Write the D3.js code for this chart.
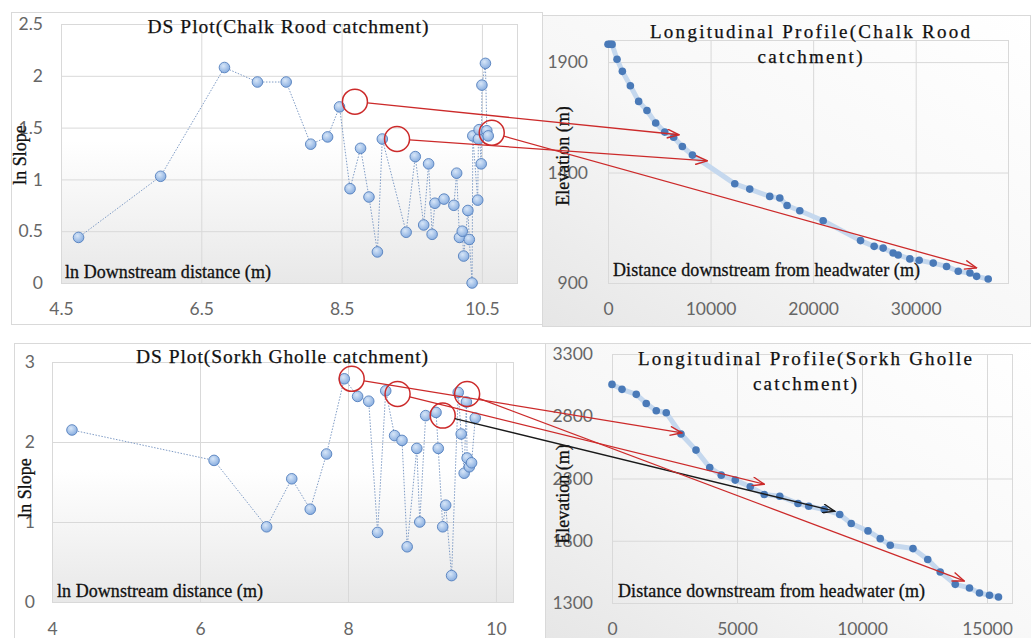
<!DOCTYPE html>
<html>
<head>
<meta charset="utf-8">
<script src="https://cdn.jsdelivr.net/npm/d3@7"></script>
<style>
  body { margin: 0; background: #fff; }
  svg { display: block; }
</style>
</head>
<body>
<svg id="fig" width="1031" height="638"></svg>
<script>
// DS plot, Chalk Rood catchment (ln downstream distance vs ln slope)
const chalkLnDist = [4.75, 5.92, 6.83, 7.30, 7.71, 8.06, 8.30, 8.47, 8.62, 8.77, 8.89, 9.01, 9.08,
  9.42, 9.55, 9.67, 9.74, 9.79, 9.83, 9.96, 10.10, 10.14, 10.18, 10.22, 10.24, 10.30, 10.32,
  10.36, 10.37, 10.44, 10.45, 10.46, 10.49, 10.50, 10.55, 10.57, 10.59];
const chalkLnSlope = [0.44, 1.03, 2.08, 1.94, 1.94, 1.34, 1.41, 1.70, 0.91, 1.30, 0.83, 0.30, 1.39,
  0.49, 1.22, 0.56, 1.15, 0.47, 0.77, 0.81, 0.75, 1.06, 0.44, 0.50, 0.26, 0.70, 0.42,
  0.00, 1.42, 0.80, 1.39, 1.48, 1.15, 1.91, 2.12, 1.47, 1.42];

// DS plot, Sorkh Gholle catchment
const sorkhLnDist = [4.27, 6.19, 6.90, 7.24, 7.49, 7.71, 7.95, 8.13, 8.28, 8.40, 8.51, 8.63, 8.73,
  8.80, 8.93, 8.97, 9.05, 9.19, 9.22, 9.28, 9.32, 9.40, 9.49, 9.53, 9.57, 9.60, 9.61, 9.64, 9.67, 9.72];
const sorkhLnSlope = [2.15, 1.77, 0.94, 1.54, 1.16, 1.85, 2.79, 2.57, 2.51, 0.87, 2.64, 2.08, 2.02,
  0.69, 1.92, 1.00, 2.33, 2.37, 1.92, 0.94, 1.21, 0.33, 2.62, 2.10, 1.61, 2.50, 1.80, 1.69, 1.74, 2.30];

// Longitudinal profile, Chalk Rood (distance from headwater m, elevation m)
const chalkDist = [0, 200, 400, 880, 1400, 2180, 2990, 3800, 4650, 5530, 6400, 7250, 8230, 12360,
  13820, 15770, 16750, 17460, 18700, 20980, 24620, 25950, 26830, 27800, 28290, 29430, 30340,
  31710, 33010, 34150, 35290, 35940, 37070];
const chalkElev = [1981, 1981, 1980, 1913, 1858, 1793, 1722, 1681, 1624, 1583, 1560, 1518, 1479, 1349,
  1325, 1292, 1285, 1251, 1227, 1182, 1092, 1066, 1058, 1036, 1027, 1009, 1003,
  990, 975, 953, 945, 930, 918];

// Longitudinal profile, Sorkh Gholle
const sorkhDist = [0, 400, 970, 1370, 1770, 2170, 2760, 3360, 3910, 4370, 4930, 5530, 6090, 6710,
  7440, 7870, 8490, 9110, 9570, 10240, 10730, 11130, 12040, 12630, 13130, 13730, 14300, 14700, 15100, 15460];
const sorkhElev = [3056, 3016, 2976, 2903, 2844, 2828, 2657, 2528, 2388, 2327, 2287, 2233, 2171, 2158,
  2099, 2077, 2051, 2011, 1938, 1879, 1817, 1764, 1737, 1649, 1549, 1450, 1421, 1380, 1362, 1348];

// tick values
const chalkDsXTicks = [4.5, 6.5, 8.5, 10.5];
const chalkDsYTicks = [0, 0.5, 1, 1.5, 2, 2.5];
const sorkhDsXTicks = [4, 6, 8, 10];
const sorkhDsYTicks = [0, 1, 2, 3];
const chalkLpXTicks = [0, 10000, 20000, 30000];
const chalkLpYTicks = [900, 1400, 1900];
const sorkhLpXTicks = [0, 5000, 10000, 15000];
const sorkhLpYTicks = [1300, 1800, 2300, 2800, 3300];

// annotations: circled knickpoints on the DS plots and where they sit on the profiles
const chalkCircles = [[8.69, 1.75], [9.29, 1.39], [10.64, 1.45]];
const chalkTips = [[6930, 1571], [9690, 1453], [35940, 968]];
const sorkhCircles = [[8.05, 2.79], [8.67, 2.60], [9.28, 2.33], [9.61, 2.60]];
const sorkhTips = [[2800, 2667], [6090, 2254], [8910, 2037], [14090, 1477]];
const sorkhArrowColor = ["red", "red", "black", "red"];

const svg = d3.select("#fig");
const defs = svg.append("defs");

const SERIF = "'Liberation Serif', 'Times New Roman', serif";
const SANS = "Lato, 'Open Sans', sans-serif";
const RED = "#cc2a2a";

// plot-area fill of the DS charts (white fading to grey at the bottom)
const dsGrad = defs.append("linearGradient").attr("id", "dsGrad")
  .attr("x1", 0).attr("y1", 0).attr("x2", 0).attr("y2", 1);
dsGrad.append("stop").attr("offset", "0.45").attr("stop-color", "#ffffff");
dsGrad.append("stop").attr("offset", "1").attr("stop-color", "#e8e8e8");

// chart-area fill of the profile charts
const lpGrad = defs.append("linearGradient").attr("id", "lpGrad")
  .attr("x1", 1).attr("y1", 0).attr("x2", 0).attr("y2", 1);
lpGrad.append("stop").attr("offset", "0").attr("stop-color", "#ffffff");
lpGrad.append("stop").attr("offset", "0.55").attr("stop-color", "#f7f7f7");
lpGrad.append("stop").attr("offset", "1").attr("stop-color", "#e6e6e6");

// little glassy marker for the DS points
const ball = defs.append("radialGradient").attr("id", "ball")
  .attr("cx", "0.4").attr("cy", "0.35").attr("r", "0.65");
ball.append("stop").attr("offset", "0").attr("stop-color", "#d7e6f8");
ball.append("stop").attr("offset", "1").attr("stop-color", "#89aee0");

[["arrow-red", RED], ["arrow-black", "#1a1a1a"]].forEach(([id, col]) => {
  defs.append("marker")
    .attr("id", id)
    .attr("viewBox", "0 0 14 10")
    .attr("refX", 13).attr("refY", 5)
    .attr("markerWidth", 14).attr("markerHeight", 10)
    .attr("markerUnits", "userSpaceOnUse")
    .attr("orient", "auto")
    .append("path")
    .attr("d", "M1,0.5 L13,5 L1,9.5")
    .attr("fill", "none")
    .attr("stroke", col)
    .attr("stroke-width", 1.4);
});

function makePanel(cfg) {
  const [pl, pt, pr, pb] = cfg.plot;
  const x = d3.scaleLinear().domain(cfg.xDomain).range([pl, pr]);
  const y = d3.scaleLinear().domain(cfg.yDomain).range([pb, pt]);
  const g = svg.append("g");

  const [bx, by, bw, bh] = cfg.box;
  g.append("rect")
    .attr("x", bx + 0.5).attr("y", by + 0.5)
    .attr("width", bw).attr("height", bh)
    .attr("fill", cfg.boxFill)
    .attr("stroke", "#d9d9d9");

  g.append("rect")
    .attr("x", pl).attr("y", pt)
    .attr("width", pr - pl).attr("height", pb - pt)
    .attr("fill", cfg.plotFill);

  // gridlines
  g.append("g")
    .attr("transform", `translate(0,${pb})`)
    .call(d3.axisBottom(x).tickValues(cfg.xTicks).tickSize(-(pb - pt)).tickFormat(""))
    .call((s) => s.select(".domain").remove())
    .selectAll("line").attr("stroke", "#d9d9d9");
  g.append("g")
    .attr("transform", `translate(${pl},0)`)
    .call(d3.axisLeft(y).tickValues(cfg.yTicks).tickSize(-(pr - pl)).tickFormat(""))
    .call((s) => s.select(".domain").remove())
    .selectAll("line").attr("stroke", "#d9d9d9");

  g.append("rect")
    .attr("x", pl + 0.5).attr("y", pt + 0.5)
    .attr("width", pr - pl).attr("height", pb - pt)
    .attr("fill", "none")
    .attr("stroke", "#d9d9d9");

  // tick labels
  g.append("g")
    .attr("transform", `translate(0,${pb})`)
    .call(d3.axisBottom(x).tickValues(cfg.xTicks).tickSize(0).tickPadding(cfg.xPad).tickFormat((d) => d))
    .call((s) => s.select(".domain").remove())
    .attr("font-family", SANS).attr("font-size", 17.5)
    .selectAll("text").attr("fill", "#666");
  g.append("g")
    .attr("transform", `translate(${pl},0)`)
    .call(d3.axisLeft(y).tickValues(cfg.yTicks).tickSize(0).tickPadding(cfg.yPad).tickFormat((d) => d))
    .call((s) => s.select(".domain").remove())
    .attr("font-family", SANS).attr("font-size", 17.5)
    .selectAll("text").attr("fill", "#666");

  // chart title (one or two lines)
  cfg.title.forEach((t) => {
    g.append("text")
      .attr("x", t.x).attr("y", t.y)
      .attr("text-anchor", "middle")
      .attr("textLength", t.len).attr("lengthAdjust", "spacing")
      .attr("font-family", SERIF).attr("font-size", cfg.titleSize)
      .attr("fill", "#111")
      .attr("stroke", "#111").attr("stroke-width", 0.25)
      .text(t.text);
  });

  // axis titles sit inside the plot, as in the original sheet
  g.append("text")
    .attr("x", cfg.xTitle.x).attr("y", cfg.xTitle.y)
    .attr("textLength", cfg.xTitle.len).attr("lengthAdjust", "spacing")
    .attr("font-family", SERIF).attr("font-size", 18)
    .attr("fill", "#111")
    .attr("stroke", "#111").attr("stroke-width", 0.3)
    .text(cfg.xTitle.text);
  g.append("text")
    .attr("transform", `translate(${cfg.yTitle.x},${cfg.yTitle.y}) rotate(-90)`)
    .attr("text-anchor", "middle")
    .attr("font-family", SERIF).attr("font-size", 18)
    .attr("fill", "#111")
    .attr("stroke", "#111").attr("stroke-width", 0.3)
    .text(cfg.yTitle.text);

  return { x, y, g };
}

function drawDs(panel, xs, ys) {
  const idx = d3.range(xs.length);
  panel.g.append("path")
    .attr("d", d3.line().x((i) => panel.x(xs[i])).y((i) => panel.y(ys[i]))(idx))
    .attr("fill", "none")
    .attr("stroke", "#7f9cc6")
    .attr("stroke-width", 1)
    .attr("stroke-dasharray", "1.5 1.5");
  panel.g.selectAll(".pt")
    .data(idx)
    .enter()
    .append("circle")
    .attr("cx", (i) => panel.x(xs[i]))
    .attr("cy", (i) => panel.y(ys[i]))
    .attr("r", 5.3)
    .attr("fill", "url(#ball)")
    .attr("stroke", "#5580bd")
    .attr("stroke-width", 0.9);
}

function drawProfile(panel, xs, ys) {
  const idx = d3.range(xs.length);
  panel.g.append("path")
    .attr("d", d3.line().x((i) => panel.x(xs[i])).y((i) => panel.y(ys[i]))(idx))
    .attr("fill", "none")
    .attr("stroke", "#c5d8ee")
    .attr("stroke-width", 5)
    .attr("stroke-linejoin", "round")
    .attr("stroke-linecap", "round");
  panel.g.selectAll(".pt")
    .data(idx)
    .enter()
    .append("circle")
    .attr("cx", (i) => panel.x(xs[i]))
    .attr("cy", (i) => panel.y(ys[i]))
    .attr("r", 3.8)
    .attr("fill", "#4a7ab8");
}

// draw a circle on the DS plot and an arrow from it to the profile
function annotate(dsPanel, lpPanel, circles, tips, colors) {
  const layer = svg.append("g");
  circles.forEach((c, k) => {
    const cx = dsPanel.x(c[0]);
    const cy = dsPanel.y(c[1]);
    const tx = lpPanel.x(tips[k][0]);
    const ty = lpPanel.y(tips[k][1]);
    const len = Math.hypot(tx - cx, ty - cy);
    const r = 12.5;
    const col = colors[k] === "black" ? "#1a1a1a" : RED;
    layer.append("circle")
      .attr("cx", cx).attr("cy", cy).attr("r", r)
      .attr("fill", "none")
      .attr("stroke", RED)
      .attr("stroke-width", 1.5);
    layer.append("line")
      .attr("x1", cx + (r * (tx - cx)) / len)
      .attr("y1", cy + (r * (ty - cy)) / len)
      .attr("x2", tx).attr("y2", ty)
      .attr("stroke", col)
      .attr("stroke-width", 1.3)
      .attr("marker-end", colors[k] === "black" ? "url(#arrow-black)" : "url(#arrow-red)");
  });
}

const chalkDs = makePanel({
  box: [11, 12, 531, 312], plot: [61, 24, 517, 283], boxFill: "#fff", plotFill: "url(#dsGrad)",
  xDomain: [4.5, 11], yDomain: [0, 2.5], xTicks: chalkDsXTicks, yTicks: chalkDsYTicks,
  xPad: 20, yPad: 18, titleSize: 19.5,
  title: [{ text: "DS Plot(Chalk Rood catchment)", x: 288, y: 33, len: 281 }],
  xTitle: { text: "ln Downstream distance (m)", x: 65, y: 278, len: 206 },
  yTitle: { text: "ln Slope", x: 26, y: 155 },
});
drawDs(chalkDs, chalkLnDist, chalkLnSlope);

const chalkLp = makePanel({
  box: [542, 15, 488, 311], plot: [608, 40, 1008, 283], boxFill: "url(#lpGrad)", plotFill: "none",
  xDomain: [0, 39000], yDomain: [900, 2000], xTicks: chalkLpXTicks, yTicks: chalkLpYTicks,
  xPad: 20, yPad: 20, titleSize: 19,
  title: [
    { text: "Longitudinal Profile(Chalk Rood", x: 810, y: 38, len: 320 },
    { text: "catchment)", x: 810, y: 63, len: 105 },
  ],
  xTitle: { text: "Distance downstream from headwater (m)", x: 613, y: 276, len: 307 },
  yTitle: { text: "Elevation (m)", x: 569, y: 156 },
});
drawProfile(chalkLp, chalkDist, chalkElev);

const sorkhDs = makePanel({
  box: [14, 343, 531, 300], plot: [52, 362, 513, 602], boxFill: "#fff", plotFill: "url(#dsGrad)",
  xDomain: [4, 10.23], yDomain: [0, 3], xTicks: sorkhDsXTicks, yTicks: sorkhDsYTicks,
  xPad: 21, yPad: 17, titleSize: 19.5,
  title: [{ text: "DS Plot(Sorkh Gholle catchment)", x: 282, y: 363, len: 292 }],
  xTitle: { text: "ln Downstream distance (m)", x: 57, y: 597, len: 206 },
  yTitle: { text: "ln Slope", x: 31, y: 488 },
});
drawDs(sorkhDs, sorkhLnDist, sorkhLnSlope);

const sorkhLp = makePanel({
  box: [545, 343, 486, 300], plot: [612, 354, 1012, 603], boxFill: "url(#lpGrad)", plotFill: "none",
  xDomain: [0, 16000], yDomain: [1300, 3300], xTicks: sorkhLpXTicks, yTicks: sorkhLpYTicks,
  xPad: 20, yPad: 19, titleSize: 19,
  title: [
    { text: "Longitudinal Profile(Sorkh Gholle", x: 805, y: 365, len: 334 },
    { text: "catchment)", x: 805, y: 390, len: 104 },
  ],
  xTitle: { text: "Distance downstream from headwater (m)", x: 618, y: 597, len: 307 },
  yTitle: { text: "Elevation (m)", x: 569, y: 494 },
});
drawProfile(sorkhLp, sorkhDist, sorkhElev);

annotate(chalkDs, chalkLp, chalkCircles, chalkTips, ["red", "red", "red"]);
annotate(sorkhDs, sorkhLp, sorkhCircles, sorkhTips, sorkhArrowColor);
</script>
</body>
</html>
